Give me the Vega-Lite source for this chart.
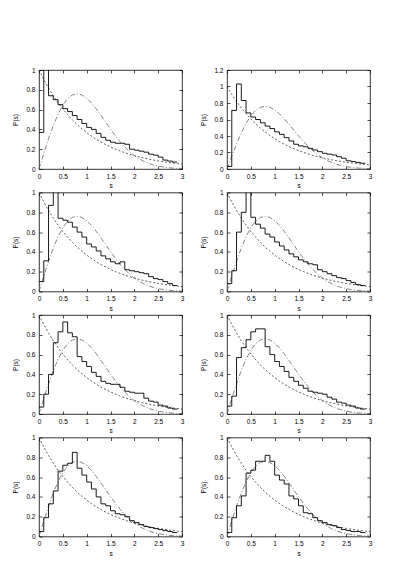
{
  "$schema": "https://vega.github.io/schema/vega-lite/v6.json",
  "padding": {"left": 12, "top": 66, "right": 5, "bottom": 5},
  "background": "white",
  "datasets": {
    "curves": [
      {"s": 0.0, "poisson": 1.0, "wigner": 0.0},
      {"s": 0.1, "poisson": 0.9048, "wigner": 0.1558},
      {"s": 0.2, "poisson": 0.8187, "wigner": 0.3044},
      {"s": 0.3, "poisson": 0.7408, "wigner": 0.4391},
      {"s": 0.4, "poisson": 0.6703, "wigner": 0.5541},
      {"s": 0.5, "poisson": 0.6065, "wigner": 0.6454},
      {"s": 0.6, "poisson": 0.5488, "wigner": 0.7104},
      {"s": 0.7, "poisson": 0.4966, "wigner": 0.7483},
      {"s": 0.8, "poisson": 0.4493, "wigner": 0.7602},
      {"s": 0.9, "poisson": 0.4066, "wigner": 0.7483},
      {"s": 1.0, "poisson": 0.3679, "wigner": 0.7162},
      {"s": 1.1, "poisson": 0.3329, "wigner": 0.668},
      {"s": 1.2, "poisson": 0.3012, "wigner": 0.6083},
      {"s": 1.3, "poisson": 0.2725, "wigner": 0.5415},
      {"s": 1.4, "poisson": 0.2466, "wigner": 0.4718},
      {"s": 1.5, "poisson": 0.2231, "wigner": 0.4025},
      {"s": 1.6, "poisson": 0.2019, "wigner": 0.3365},
      {"s": 1.7, "poisson": 0.1827, "wigner": 0.2759},
      {"s": 1.8, "poisson": 0.1653, "wigner": 0.222},
      {"s": 1.9, "poisson": 0.1496, "wigner": 0.1752},
      {"s": 2.0, "poisson": 0.1353, "wigner": 0.1358},
      {"s": 2.1, "poisson": 0.1225, "wigner": 0.1033},
      {"s": 2.2, "poisson": 0.1108, "wigner": 0.0772},
      {"s": 2.3, "poisson": 0.1003, "wigner": 0.0567},
      {"s": 2.4, "poisson": 0.0907, "wigner": 0.0409},
      {"s": 2.5, "poisson": 0.0821, "wigner": 0.029},
      {"s": 2.6, "poisson": 0.0743, "wigner": 0.0202},
      {"s": 2.7, "poisson": 0.0672, "wigner": 0.0138},
      {"s": 2.8, "poisson": 0.0608, "wigner": 0.0093},
      {"s": 2.9, "poisson": 0.055, "wigner": 0.0062},
      {"s": 3.0, "poisson": 0.0498, "wigner": 0.004}
    ],
    "hist": [
      {"panel": "a", "s": 0.0, "p": 0.37}, {"panel": "a", "s": 0.1, "p": 1.05}, {"panel": "a", "s": 0.2, "p": 0.74}, {"panel": "a", "s": 0.3, "p": 0.70}, {"panel": "a", "s": 0.4, "p": 0.65}, {"panel": "a", "s": 0.5, "p": 0.61}, {"panel": "a", "s": 0.6, "p": 0.58}, {"panel": "a", "s": 0.7, "p": 0.54}, {"panel": "a", "s": 0.8, "p": 0.50}, {"panel": "a", "s": 0.9, "p": 0.46},
      {"panel": "a", "s": 1.0, "p": 0.42}, {"panel": "a", "s": 1.1, "p": 0.40}, {"panel": "a", "s": 1.2, "p": 0.36}, {"panel": "a", "s": 1.3, "p": 0.32}, {"panel": "a", "s": 1.4, "p": 0.29}, {"panel": "a", "s": 1.5, "p": 0.27}, {"panel": "a", "s": 1.6, "p": 0.26}, {"panel": "a", "s": 1.7, "p": 0.26}, {"panel": "a", "s": 1.8, "p": 0.25}, {"panel": "a", "s": 1.9, "p": 0.20},
      {"panel": "a", "s": 2.0, "p": 0.19}, {"panel": "a", "s": 2.1, "p": 0.18}, {"panel": "a", "s": 2.2, "p": 0.17}, {"panel": "a", "s": 2.3, "p": 0.15}, {"panel": "a", "s": 2.4, "p": 0.14}, {"panel": "a", "s": 2.5, "p": 0.12}, {"panel": "a", "s": 2.6, "p": 0.09}, {"panel": "a", "s": 2.7, "p": 0.08}, {"panel": "a", "s": 2.8, "p": 0.07}, {"panel": "a", "s": 2.9, "p": 0.07},

      {"panel": "b", "s": 0.0, "p": 0.03}, {"panel": "b", "s": 0.1, "p": 0.71}, {"panel": "b", "s": 0.2, "p": 1.03}, {"panel": "b", "s": 0.3, "p": 0.83}, {"panel": "b", "s": 0.4, "p": 0.68}, {"panel": "b", "s": 0.5, "p": 0.63}, {"panel": "b", "s": 0.6, "p": 0.60}, {"panel": "b", "s": 0.7, "p": 0.56}, {"panel": "b", "s": 0.8, "p": 0.52}, {"panel": "b", "s": 0.9, "p": 0.49},
      {"panel": "b", "s": 1.0, "p": 0.45}, {"panel": "b", "s": 1.1, "p": 0.42}, {"panel": "b", "s": 1.2, "p": 0.38}, {"panel": "b", "s": 1.3, "p": 0.34}, {"panel": "b", "s": 1.4, "p": 0.30}, {"panel": "b", "s": 1.5, "p": 0.28}, {"panel": "b", "s": 1.6, "p": 0.27}, {"panel": "b", "s": 1.7, "p": 0.25}, {"panel": "b", "s": 1.8, "p": 0.23}, {"panel": "b", "s": 1.9, "p": 0.21},
      {"panel": "b", "s": 2.0, "p": 0.19}, {"panel": "b", "s": 2.1, "p": 0.18}, {"panel": "b", "s": 2.2, "p": 0.17}, {"panel": "b", "s": 2.3, "p": 0.15}, {"panel": "b", "s": 2.4, "p": 0.13}, {"panel": "b", "s": 2.5, "p": 0.10}, {"panel": "b", "s": 2.6, "p": 0.09}, {"panel": "b", "s": 2.7, "p": 0.08}, {"panel": "b", "s": 2.8, "p": 0.07}, {"panel": "b", "s": 2.9, "p": 0.07},

      {"panel": "c", "s": 0.0, "p": 0.10}, {"panel": "c", "s": 0.1, "p": 0.31}, {"panel": "c", "s": 0.2, "p": 0.87}, {"panel": "c", "s": 0.3, "p": 1.05}, {"panel": "c", "s": 0.4, "p": 0.74}, {"panel": "c", "s": 0.5, "p": 0.72}, {"panel": "c", "s": 0.6, "p": 0.70}, {"panel": "c", "s": 0.7, "p": 0.65}, {"panel": "c", "s": 0.8, "p": 0.60}, {"panel": "c", "s": 0.9, "p": 0.55},
      {"panel": "c", "s": 1.0, "p": 0.48}, {"panel": "c", "s": 1.1, "p": 0.45}, {"panel": "c", "s": 1.2, "p": 0.41}, {"panel": "c", "s": 1.3, "p": 0.36}, {"panel": "c", "s": 1.4, "p": 0.33}, {"panel": "c", "s": 1.5, "p": 0.30}, {"panel": "c", "s": 1.6, "p": 0.28}, {"panel": "c", "s": 1.7, "p": 0.30}, {"panel": "c", "s": 1.8, "p": 0.22}, {"panel": "c", "s": 1.9, "p": 0.21},
      {"panel": "c", "s": 2.0, "p": 0.20}, {"panel": "c", "s": 2.1, "p": 0.19}, {"panel": "c", "s": 2.2, "p": 0.18}, {"panel": "c", "s": 2.3, "p": 0.15}, {"panel": "c", "s": 2.4, "p": 0.13}, {"panel": "c", "s": 2.5, "p": 0.12}, {"panel": "c", "s": 2.6, "p": 0.10}, {"panel": "c", "s": 2.7, "p": 0.08}, {"panel": "c", "s": 2.8, "p": 0.06}, {"panel": "c", "s": 2.9, "p": 0.06},

      {"panel": "d", "s": 0.0, "p": 0.08}, {"panel": "d", "s": 0.1, "p": 0.21}, {"panel": "d", "s": 0.2, "p": 0.60}, {"panel": "d", "s": 0.3, "p": 0.80}, {"panel": "d", "s": 0.4, "p": 1.05}, {"panel": "d", "s": 0.5, "p": 0.75}, {"panel": "d", "s": 0.6, "p": 0.68}, {"panel": "d", "s": 0.7, "p": 0.64}, {"panel": "d", "s": 0.8, "p": 0.58}, {"panel": "d", "s": 0.9, "p": 0.55},
      {"panel": "d", "s": 1.0, "p": 0.50}, {"panel": "d", "s": 1.1, "p": 0.46}, {"panel": "d", "s": 1.2, "p": 0.42}, {"panel": "d", "s": 1.3, "p": 0.38}, {"panel": "d", "s": 1.4, "p": 0.35}, {"panel": "d", "s": 1.5, "p": 0.32}, {"panel": "d", "s": 1.6, "p": 0.30}, {"panel": "d", "s": 1.7, "p": 0.28}, {"panel": "d", "s": 1.8, "p": 0.27}, {"panel": "d", "s": 1.9, "p": 0.22},
      {"panel": "d", "s": 2.0, "p": 0.20}, {"panel": "d", "s": 2.1, "p": 0.18}, {"panel": "d", "s": 2.2, "p": 0.16}, {"panel": "d", "s": 2.3, "p": 0.14}, {"panel": "d", "s": 2.4, "p": 0.13}, {"panel": "d", "s": 2.5, "p": 0.11}, {"panel": "d", "s": 2.6, "p": 0.09}, {"panel": "d", "s": 2.7, "p": 0.07}, {"panel": "d", "s": 2.8, "p": 0.06}, {"panel": "d", "s": 2.9, "p": 0.06},

      {"panel": "e", "s": 0.0, "p": 0.07}, {"panel": "e", "s": 0.1, "p": 0.20}, {"panel": "e", "s": 0.2, "p": 0.40}, {"panel": "e", "s": 0.3, "p": 0.72}, {"panel": "e", "s": 0.4, "p": 0.83}, {"panel": "e", "s": 0.5, "p": 0.93}, {"panel": "e", "s": 0.6, "p": 0.82}, {"panel": "e", "s": 0.7, "p": 0.78}, {"panel": "e", "s": 0.8, "p": 0.58}, {"panel": "e", "s": 0.9, "p": 0.53},
      {"panel": "e", "s": 1.0, "p": 0.48}, {"panel": "e", "s": 1.1, "p": 0.42}, {"panel": "e", "s": 1.2, "p": 0.38}, {"panel": "e", "s": 1.3, "p": 0.33}, {"panel": "e", "s": 1.4, "p": 0.31}, {"panel": "e", "s": 1.5, "p": 0.30}, {"panel": "e", "s": 1.6, "p": 0.30}, {"panel": "e", "s": 1.7, "p": 0.27}, {"panel": "e", "s": 1.8, "p": 0.23}, {"panel": "e", "s": 1.9, "p": 0.22},
      {"panel": "e", "s": 2.0, "p": 0.21}, {"panel": "e", "s": 2.1, "p": 0.21}, {"panel": "e", "s": 2.2, "p": 0.16}, {"panel": "e", "s": 2.3, "p": 0.13}, {"panel": "e", "s": 2.4, "p": 0.12}, {"panel": "e", "s": 2.5, "p": 0.09}, {"panel": "e", "s": 2.6, "p": 0.08}, {"panel": "e", "s": 2.7, "p": 0.06}, {"panel": "e", "s": 2.8, "p": 0.05}, {"panel": "e", "s": 2.9, "p": 0.05},

      {"panel": "f", "s": 0.0, "p": 0.08}, {"panel": "f", "s": 0.1, "p": 0.18}, {"panel": "f", "s": 0.2, "p": 0.57}, {"panel": "f", "s": 0.3, "p": 0.67}, {"panel": "f", "s": 0.4, "p": 0.75}, {"panel": "f", "s": 0.5, "p": 0.83}, {"panel": "f", "s": 0.6, "p": 0.86}, {"panel": "f", "s": 0.7, "p": 0.86}, {"panel": "f", "s": 0.8, "p": 0.68}, {"panel": "f", "s": 0.9, "p": 0.60},
      {"panel": "f", "s": 1.0, "p": 0.53}, {"panel": "f", "s": 1.1, "p": 0.48}, {"panel": "f", "s": 1.2, "p": 0.43}, {"panel": "f", "s": 1.3, "p": 0.37}, {"panel": "f", "s": 1.4, "p": 0.33}, {"panel": "f", "s": 1.5, "p": 0.29}, {"panel": "f", "s": 1.6, "p": 0.26}, {"panel": "f", "s": 1.7, "p": 0.23}, {"panel": "f", "s": 1.8, "p": 0.22}, {"panel": "f", "s": 1.9, "p": 0.21},
      {"panel": "f", "s": 2.0, "p": 0.20}, {"panel": "f", "s": 2.1, "p": 0.17}, {"panel": "f", "s": 2.2, "p": 0.15}, {"panel": "f", "s": 2.3, "p": 0.12}, {"panel": "f", "s": 2.4, "p": 0.11}, {"panel": "f", "s": 2.5, "p": 0.09}, {"panel": "f", "s": 2.6, "p": 0.08}, {"panel": "f", "s": 2.7, "p": 0.06}, {"panel": "f", "s": 2.8, "p": 0.05}, {"panel": "f", "s": 2.9, "p": 0.05},

      {"panel": "g", "s": 0.0, "p": 0.05}, {"panel": "g", "s": 0.1, "p": 0.19}, {"panel": "g", "s": 0.2, "p": 0.33}, {"panel": "g", "s": 0.3, "p": 0.46}, {"panel": "g", "s": 0.4, "p": 0.66}, {"panel": "g", "s": 0.5, "p": 0.72}, {"panel": "g", "s": 0.6, "p": 0.74}, {"panel": "g", "s": 0.7, "p": 0.85}, {"panel": "g", "s": 0.8, "p": 0.69}, {"panel": "g", "s": 0.9, "p": 0.62},
      {"panel": "g", "s": 1.0, "p": 0.55}, {"panel": "g", "s": 1.1, "p": 0.48}, {"panel": "g", "s": 1.2, "p": 0.40}, {"panel": "g", "s": 1.3, "p": 0.33}, {"panel": "g", "s": 1.4, "p": 0.31}, {"panel": "g", "s": 1.5, "p": 0.26}, {"panel": "g", "s": 1.6, "p": 0.23}, {"panel": "g", "s": 1.7, "p": 0.22}, {"panel": "g", "s": 1.8, "p": 0.20}, {"panel": "g", "s": 1.9, "p": 0.16},
      {"panel": "g", "s": 2.0, "p": 0.14}, {"panel": "g", "s": 2.1, "p": 0.12}, {"panel": "g", "s": 2.2, "p": 0.10}, {"panel": "g", "s": 2.3, "p": 0.09}, {"panel": "g", "s": 2.4, "p": 0.08}, {"panel": "g", "s": 2.5, "p": 0.07}, {"panel": "g", "s": 2.6, "p": 0.06}, {"panel": "g", "s": 2.7, "p": 0.05}, {"panel": "g", "s": 2.8, "p": 0.04}, {"panel": "g", "s": 2.9, "p": 0.04},

      {"panel": "h", "s": 0.0, "p": 0.04}, {"panel": "h", "s": 0.1, "p": 0.19}, {"panel": "h", "s": 0.2, "p": 0.31}, {"panel": "h", "s": 0.3, "p": 0.41}, {"panel": "h", "s": 0.4, "p": 0.64}, {"panel": "h", "s": 0.5, "p": 0.67}, {"panel": "h", "s": 0.6, "p": 0.76}, {"panel": "h", "s": 0.7, "p": 0.76}, {"panel": "h", "s": 0.8, "p": 0.82}, {"panel": "h", "s": 0.9, "p": 0.76},
      {"panel": "h", "s": 1.0, "p": 0.62}, {"panel": "h", "s": 1.1, "p": 0.57}, {"panel": "h", "s": 1.2, "p": 0.53}, {"panel": "h", "s": 1.3, "p": 0.41}, {"panel": "h", "s": 1.4, "p": 0.38}, {"panel": "h", "s": 1.5, "p": 0.31}, {"panel": "h", "s": 1.6, "p": 0.24}, {"panel": "h", "s": 1.7, "p": 0.23}, {"panel": "h", "s": 1.8, "p": 0.19}, {"panel": "h", "s": 1.9, "p": 0.16},
      {"panel": "h", "s": 2.0, "p": 0.14}, {"panel": "h", "s": 2.1, "p": 0.12}, {"panel": "h", "s": 2.2, "p": 0.11}, {"panel": "h", "s": 2.3, "p": 0.09}, {"panel": "h", "s": 2.4, "p": 0.07}, {"panel": "h", "s": 2.5, "p": 0.06}, {"panel": "h", "s": 2.6, "p": 0.05}, {"panel": "h", "s": 2.7, "p": 0.05}, {"panel": "h", "s": 2.8, "p": 0.04}, {"panel": "h", "s": 2.9, "p": 0.04}
    ]
  },
  "vconcat": [
    {
      "spacing": 15,
      "hconcat": [
        {
          "width": 143, "height": 99,
          "layer": [
            {"data": {"name": "curves"}, "mark": {"type": "line", "color": "#333", "strokeWidth": 0.8, "strokeDash": [2, 2]},
             "encoding": {"x": {"field": "s", "type": "quantitative", "scale": {"domain": [0, 3]}, "axis": {"orient": "bottom", "title": "s", "values": [0, 0.5, 1, 1.5, 2, 2.5, 3]}},
                          "y": {"field": "poisson", "type": "quantitative", "scale": {"domain": [0, 1]}, "axis": {"orient": "left", "title": "P(s)", "values": [0, 0.2, 0.4, 0.6, 0.8, 1]}}}},
            {"data": {"name": "curves"}, "mark": {"type": "line", "color": "#666", "strokeWidth": 0.8, "strokeDash": [5, 2, 1, 2]},
             "encoding": {"x": {"field": "s", "type": "quantitative", "scale": {"domain": [0, 3]}, "axis": {"orient": "top", "labels": false, "title": null, "values": [0, 0.5, 1, 1.5, 2, 2.5, 3]}},
                          "y": {"field": "wigner", "type": "quantitative", "scale": {"domain": [0, 1]}, "axis": {"orient": "right", "labels": false, "title": null, "values": [0, 0.2, 0.4, 0.6, 0.8, 1]}}}},
            {"data": {"name": "hist"}, "transform": [{"filter": "datum.panel == 'a'"}], "mark": {"type": "line", "interpolate": "step-after", "color": "black", "strokeWidth": 0.9, "clip": true},
             "encoding": {"x": {"field": "s", "type": "quantitative", "scale": {"domain": [0, 3]}, "axis": null}, "y": {"field": "p", "type": "quantitative", "scale": {"domain": [0, 1]}, "axis": null}}},
            {"mark": {"type": "text", "fontSize": 7, "font": "Liberation Sans"}, "encoding": {"x": {"datum": 2.62, "axis": null}, "y": {"datum": 0.8, "axis": null}, "text": {"value": "(a)"}}}
          ],
          "resolve": {"axis": {"x": "independent", "y": "independent"}}
        },
        {
          "width": 143, "height": 99,
          "layer": [
            {"data": {"name": "curves"}, "mark": {"type": "line", "color": "#333", "strokeWidth": 0.8, "strokeDash": [2, 2]},
             "encoding": {"x": {"field": "s", "type": "quantitative", "scale": {"domain": [0, 3]}, "axis": {"orient": "bottom", "title": "s", "values": [0, 0.5, 1, 1.5, 2, 2.5, 3]}},
                          "y": {"field": "poisson", "type": "quantitative", "scale": {"domain": [0, 1.2]}, "axis": {"orient": "left", "title": "P(s)", "values": [0, 0.2, 0.4, 0.6, 0.8, 1, 1.2]}}}},
            {"data": {"name": "curves"}, "mark": {"type": "line", "color": "#666", "strokeWidth": 0.8, "strokeDash": [5, 2, 1, 2]},
             "encoding": {"x": {"field": "s", "type": "quantitative", "scale": {"domain": [0, 3]}, "axis": {"orient": "top", "labels": false, "title": null, "values": [0, 0.5, 1, 1.5, 2, 2.5, 3]}},
                          "y": {"field": "wigner", "type": "quantitative", "scale": {"domain": [0, 1.2]}, "axis": {"orient": "right", "labels": false, "title": null, "values": [0, 0.2, 0.4, 0.6, 0.8, 1, 1.2]}}}},
            {"data": {"name": "hist"}, "transform": [{"filter": "datum.panel == 'b'"}], "mark": {"type": "line", "interpolate": "step-after", "color": "black", "strokeWidth": 0.9, "clip": true},
             "encoding": {"x": {"field": "s", "type": "quantitative", "scale": {"domain": [0, 3]}, "axis": null}, "y": {"field": "p", "type": "quantitative", "scale": {"domain": [0, 1.2]}, "axis": null}}},
            {"mark": {"type": "text", "fontSize": 7, "font": "Liberation Sans"}, "encoding": {"x": {"datum": 2.75, "axis": null}, "y": {"datum": 0.8, "axis": null}, "text": {"value": "(b)"}}}
          ],
          "resolve": {"axis": {"x": "independent", "y": "independent"}}
        }
      ]
    },
    {
      "spacing": 15,
      "hconcat": [
        {
          "width": 143, "height": 99,
          "layer": [
            {"data": {"name": "curves"}, "mark": {"type": "line", "color": "#333", "strokeWidth": 0.8, "strokeDash": [2, 2]},
             "encoding": {"x": {"field": "s", "type": "quantitative", "scale": {"domain": [0, 3]}, "axis": {"orient": "bottom", "title": "s", "values": [0, 0.5, 1, 1.5, 2, 2.5, 3]}},
                          "y": {"field": "poisson", "type": "quantitative", "scale": {"domain": [0, 1]}, "axis": {"orient": "left", "title": "P(s)", "values": [0, 0.2, 0.4, 0.6, 0.8, 1]}}}},
            {"data": {"name": "curves"}, "mark": {"type": "line", "color": "#666", "strokeWidth": 0.8, "strokeDash": [5, 2, 1, 2]},
             "encoding": {"x": {"field": "s", "type": "quantitative", "scale": {"domain": [0, 3]}, "axis": {"orient": "top", "labels": false, "title": null, "values": [0, 0.5, 1, 1.5, 2, 2.5, 3]}},
                          "y": {"field": "wigner", "type": "quantitative", "scale": {"domain": [0, 1]}, "axis": {"orient": "right", "labels": false, "title": null, "values": [0, 0.2, 0.4, 0.6, 0.8, 1]}}}},
            {"data": {"name": "hist"}, "transform": [{"filter": "datum.panel == 'c'"}], "mark": {"type": "line", "interpolate": "step-after", "color": "black", "strokeWidth": 0.9, "clip": true},
             "encoding": {"x": {"field": "s", "type": "quantitative", "scale": {"domain": [0, 3]}, "axis": null}, "y": {"field": "p", "type": "quantitative", "scale": {"domain": [0, 1]}, "axis": null}}},
            {"mark": {"type": "text", "fontSize": 7, "font": "Liberation Sans"}, "encoding": {"x": {"datum": 2.7, "axis": null}, "y": {"datum": 0.8, "axis": null}, "text": {"value": "(c)"}}}
          ],
          "resolve": {"axis": {"x": "independent", "y": "independent"}}
        },
        {
          "width": 143, "height": 99,
          "layer": [
            {"data": {"name": "curves"}, "mark": {"type": "line", "color": "#333", "strokeWidth": 0.8, "strokeDash": [2, 2]},
             "encoding": {"x": {"field": "s", "type": "quantitative", "scale": {"domain": [0, 3]}, "axis": {"orient": "bottom", "title": "s", "values": [0, 0.5, 1, 1.5, 2, 2.5, 3]}},
                          "y": {"field": "poisson", "type": "quantitative", "scale": {"domain": [0, 1]}, "axis": {"orient": "left", "title": "P(s)", "values": [0, 0.2, 0.4, 0.6, 0.8, 1]}}}},
            {"data": {"name": "curves"}, "mark": {"type": "line", "color": "#666", "strokeWidth": 0.8, "strokeDash": [5, 2, 1, 2]},
             "encoding": {"x": {"field": "s", "type": "quantitative", "scale": {"domain": [0, 3]}, "axis": {"orient": "top", "labels": false, "title": null, "values": [0, 0.5, 1, 1.5, 2, 2.5, 3]}},
                          "y": {"field": "wigner", "type": "quantitative", "scale": {"domain": [0, 1]}, "axis": {"orient": "right", "labels": false, "title": null, "values": [0, 0.2, 0.4, 0.6, 0.8, 1]}}}},
            {"data": {"name": "hist"}, "transform": [{"filter": "datum.panel == 'd'"}], "mark": {"type": "line", "interpolate": "step-after", "color": "black", "strokeWidth": 0.9, "clip": true},
             "encoding": {"x": {"field": "s", "type": "quantitative", "scale": {"domain": [0, 3]}, "axis": null}, "y": {"field": "p", "type": "quantitative", "scale": {"domain": [0, 1]}, "axis": null}}},
            {"mark": {"type": "text", "fontSize": 7, "font": "Liberation Sans"}, "encoding": {"x": {"datum": 2.75, "axis": null}, "y": {"datum": 0.8, "axis": null}, "text": {"value": "(d)"}}}
          ],
          "resolve": {"axis": {"x": "independent", "y": "independent"}}
        }
      ]
    },
    {
      "spacing": 15,
      "hconcat": [
        {
          "width": 143, "height": 99,
          "layer": [
            {"data": {"name": "curves"}, "mark": {"type": "line", "color": "#333", "strokeWidth": 0.8, "strokeDash": [2, 2]},
             "encoding": {"x": {"field": "s", "type": "quantitative", "scale": {"domain": [0, 3]}, "axis": {"orient": "bottom", "title": "s", "values": [0, 0.5, 1, 1.5, 2, 2.5, 3]}},
                          "y": {"field": "poisson", "type": "quantitative", "scale": {"domain": [0, 1]}, "axis": {"orient": "left", "title": "P(s)", "values": [0, 0.2, 0.4, 0.6, 0.8, 1]}}}},
            {"data": {"name": "curves"}, "mark": {"type": "line", "color": "#666", "strokeWidth": 0.8, "strokeDash": [5, 2, 1, 2]},
             "encoding": {"x": {"field": "s", "type": "quantitative", "scale": {"domain": [0, 3]}, "axis": {"orient": "top", "labels": false, "title": null, "values": [0, 0.5, 1, 1.5, 2, 2.5, 3]}},
                          "y": {"field": "wigner", "type": "quantitative", "scale": {"domain": [0, 1]}, "axis": {"orient": "right", "labels": false, "title": null, "values": [0, 0.2, 0.4, 0.6, 0.8, 1]}}}},
            {"data": {"name": "hist"}, "transform": [{"filter": "datum.panel == 'e'"}], "mark": {"type": "line", "interpolate": "step-after", "color": "black", "strokeWidth": 0.9, "clip": true},
             "encoding": {"x": {"field": "s", "type": "quantitative", "scale": {"domain": [0, 3]}, "axis": null}, "y": {"field": "p", "type": "quantitative", "scale": {"domain": [0, 1]}, "axis": null}}},
            {"mark": {"type": "text", "fontSize": 7, "font": "Liberation Sans"}, "encoding": {"x": {"datum": 2.62, "axis": null}, "y": {"datum": 0.8, "axis": null}, "text": {"value": "(e)"}}}
          ],
          "resolve": {"axis": {"x": "independent", "y": "independent"}}
        },
        {
          "width": 143, "height": 99,
          "layer": [
            {"data": {"name": "curves"}, "mark": {"type": "line", "color": "#333", "strokeWidth": 0.8, "strokeDash": [2, 2]},
             "encoding": {"x": {"field": "s", "type": "quantitative", "scale": {"domain": [0, 3]}, "axis": {"orient": "bottom", "title": "s", "values": [0, 0.5, 1, 1.5, 2, 2.5, 3]}},
                          "y": {"field": "poisson", "type": "quantitative", "scale": {"domain": [0, 1]}, "axis": {"orient": "left", "title": "P(s)", "values": [0, 0.2, 0.4, 0.6, 0.8, 1]}}}},
            {"data": {"name": "curves"}, "mark": {"type": "line", "color": "#666", "strokeWidth": 0.8, "strokeDash": [5, 2, 1, 2]},
             "encoding": {"x": {"field": "s", "type": "quantitative", "scale": {"domain": [0, 3]}, "axis": {"orient": "top", "labels": false, "title": null, "values": [0, 0.5, 1, 1.5, 2, 2.5, 3]}},
                          "y": {"field": "wigner", "type": "quantitative", "scale": {"domain": [0, 1]}, "axis": {"orient": "right", "labels": false, "title": null, "values": [0, 0.2, 0.4, 0.6, 0.8, 1]}}}},
            {"data": {"name": "hist"}, "transform": [{"filter": "datum.panel == 'f'"}], "mark": {"type": "line", "interpolate": "step-after", "color": "black", "strokeWidth": 0.9, "clip": true},
             "encoding": {"x": {"field": "s", "type": "quantitative", "scale": {"domain": [0, 3]}, "axis": null}, "y": {"field": "p", "type": "quantitative", "scale": {"domain": [0, 1]}, "axis": null}}},
            {"mark": {"type": "text", "fontSize": 7, "font": "Liberation Sans"}, "encoding": {"x": {"datum": 2.7, "axis": null}, "y": {"datum": 0.8, "axis": null}, "text": {"value": "(f)"}}}
          ],
          "resolve": {"axis": {"x": "independent", "y": "independent"}}
        }
      ]
    },
    {
      "spacing": 15,
      "hconcat": [
        {
          "width": 143, "height": 99,
          "layer": [
            {"data": {"name": "curves"}, "mark": {"type": "line", "color": "#333", "strokeWidth": 0.8, "strokeDash": [2, 2]},
             "encoding": {"x": {"field": "s", "type": "quantitative", "scale": {"domain": [0, 3]}, "axis": {"orient": "bottom", "title": "s", "values": [0, 0.5, 1, 1.5, 2, 2.5, 3]}},
                          "y": {"field": "poisson", "type": "quantitative", "scale": {"domain": [0, 1]}, "axis": {"orient": "left", "title": "P(s)", "values": [0, 0.2, 0.4, 0.6, 0.8, 1]}}}},
            {"data": {"name": "curves"}, "mark": {"type": "line", "color": "#666", "strokeWidth": 0.8, "strokeDash": [5, 2, 1, 2]},
             "encoding": {"x": {"field": "s", "type": "quantitative", "scale": {"domain": [0, 3]}, "axis": {"orient": "top", "labels": false, "title": null, "values": [0, 0.5, 1, 1.5, 2, 2.5, 3]}},
                          "y": {"field": "wigner", "type": "quantitative", "scale": {"domain": [0, 1]}, "axis": {"orient": "right", "labels": false, "title": null, "values": [0, 0.2, 0.4, 0.6, 0.8, 1]}}}},
            {"data": {"name": "hist"}, "transform": [{"filter": "datum.panel == 'g'"}], "mark": {"type": "line", "interpolate": "step-after", "color": "black", "strokeWidth": 0.9, "clip": true},
             "encoding": {"x": {"field": "s", "type": "quantitative", "scale": {"domain": [0, 3]}, "axis": null}, "y": {"field": "p", "type": "quantitative", "scale": {"domain": [0, 1]}, "axis": null}}},
            {"mark": {"type": "text", "fontSize": 7, "font": "Liberation Sans"}, "encoding": {"x": {"datum": 2.62, "axis": null}, "y": {"datum": 0.8, "axis": null}, "text": {"value": "(g)"}}}
          ],
          "resolve": {"axis": {"x": "independent", "y": "independent"}}
        },
        {
          "width": 143, "height": 99,
          "layer": [
            {"data": {"name": "curves"}, "mark": {"type": "line", "color": "#333", "strokeWidth": 0.8, "strokeDash": [2, 2]},
             "encoding": {"x": {"field": "s", "type": "quantitative", "scale": {"domain": [0, 3]}, "axis": {"orient": "bottom", "title": "s", "values": [0, 0.5, 1, 1.5, 2, 2.5, 3]}},
                          "y": {"field": "poisson", "type": "quantitative", "scale": {"domain": [0, 1]}, "axis": {"orient": "left", "title": "P(s)", "values": [0, 0.2, 0.4, 0.6, 0.8, 1]}}}},
            {"data": {"name": "curves"}, "mark": {"type": "line", "color": "#666", "strokeWidth": 0.8, "strokeDash": [5, 2, 1, 2]},
             "encoding": {"x": {"field": "s", "type": "quantitative", "scale": {"domain": [0, 3]}, "axis": {"orient": "top", "labels": false, "title": null, "values": [0, 0.5, 1, 1.5, 2, 2.5, 3]}},
                          "y": {"field": "wigner", "type": "quantitative", "scale": {"domain": [0, 1]}, "axis": {"orient": "right", "labels": false, "title": null, "values": [0, 0.2, 0.4, 0.6, 0.8, 1]}}}},
            {"data": {"name": "hist"}, "transform": [{"filter": "datum.panel == 'h'"}], "mark": {"type": "line", "interpolate": "step-after", "color": "black", "strokeWidth": 0.9, "clip": true},
             "encoding": {"x": {"field": "s", "type": "quantitative", "scale": {"domain": [0, 3]}, "axis": null}, "y": {"field": "p", "type": "quantitative", "scale": {"domain": [0, 1]}, "axis": null}}},
            {"mark": {"type": "text", "fontSize": 7, "font": "Liberation Sans"}, "encoding": {"x": {"datum": 2.7, "axis": null}, "y": {"datum": 0.8, "axis": null}, "text": {"value": "(h)"}}}
          ],
          "resolve": {"axis": {"x": "independent", "y": "independent"}}
        }
      ]
    }
  ],
  "spacing": -1.5,
  "config": {
    "view": {"stroke": "black", "strokeWidth": 0.8},
    "axis": {
      "labelFont": "Liberation Sans", "labelFontSize": 6.5, "labelColor": "black",
      "titleFont": "Liberation Sans", "titleFontSize": 6.5, "titleFontWeight": "normal", "titleColor": "black",
      "tickSize": -3, "tickColor": "black", "tickWidth": 0.7, "labelPadding": 7,
      "domain": false, "grid": false, "format": "~g", "labelFlush": false, "labelOverlap": false
    },
    "axisLeft": {"titlePadding": 7},
    "axisBottom": {"titlePadding": 3}
  }
}
